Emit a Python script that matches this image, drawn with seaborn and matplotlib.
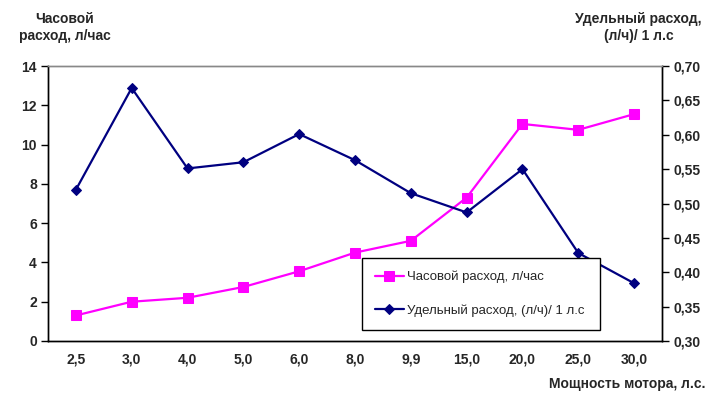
import numpy as np
import pandas as pd
import seaborn as sns
import matplotlib.pyplot as plt
from matplotlib.ticker import FixedLocator

# values
power = ["2,5", "3,0", "4,0", "5,0", "6,0", "8,0", "9,9", "15,0", "20,0", "25,0", "30,0"]
hourly = [1.3, 2.0, 2.2, 2.75, 3.55, 4.5, 5.1, 7.3, 11.05, 10.75, 11.55]
specific = [0.52, 0.668, 0.551, 0.56, 0.601, 0.563, 0.515, 0.487, 0.55, 0.428, 0.384]

sns.set_style("white")
plt.rcParams['font.family'] = ['Liberation Sans', 'DejaVu Sans']

df = pd.DataFrame({"pos": np.arange(len(power)), "hourly": hourly, "specific": specific})

fig = plt.figure(figsize=(7.16, 4.0), dpi=100)
ax = fig.add_axes([0.067, 0.1475, 0.8576, 0.6875])
ax2 = ax.twinx()

sns.lineplot(data=df, x="pos", y="hourly", ax=ax, color="#ff00ff", lw=1.6,
             marker="s", markersize=6.5, markeredgecolor="#ff00ff",
             label="Часовой расход, л/час", legend=False)
sns.lineplot(data=df, x="pos", y="specific", ax=ax2, color="#000080", lw=1.6,
             marker="D", markersize=5.2, markeredgecolor="#000080",
             label="Удельный расход, (л/ч)/ 1 л.с", legend=False)

ax.set_xlim(-0.5, len(power) - 0.5)
ax.set_ylim(0, 14)
ax2.set_ylim(0.30, 0.70)
ax.set_yticks(np.arange(0, 15, 2))
ax2.set_yticks(np.arange(0.30, 0.701, 0.05))
ax2.set_yticklabels([f"{v:.2f}".replace(".", ",") for v in np.arange(0.30, 0.701, 0.05)])

ax.set_xticks(df["pos"])
ax.set_xticklabels(power)
ax.xaxis.set_minor_locator(FixedLocator(np.arange(0.5, len(power) - 1, 1)))
ax.tick_params(axis="x", which="major", length=0, pad=8)
ax.tick_params(axis="x", which="minor", length=6, direction="inout", width=1, color="black")
ax.tick_params(axis="y", length=5, direction="out", width=1, color="black", pad=3)
ax2.tick_params(axis="y", length=5, direction="out", width=1, color="black", pad=3)

for a in (ax, ax2):
    for lab in a.get_xticklabels() + a.get_yticklabels():
        lab.set_fontweight("bold")
        lab.set_fontsize(10)
    a.set_xlabel("")
    a.set_ylabel("")
    for s in ("left", "right", "bottom"):
        a.spines[s].set_color("black")
        a.spines[s].set_linewidth(1)
    a.spines["top"].set_color("#888888")
    a.spines["top"].set_linewidth(1)

# axis titles placed like in the original
fig.text(0.09, 0.97, "Часовой\nрасход, л/час", ha="center", va="top",
         fontsize=10, fontweight="bold", linespacing=1.25)
fig.text(0.892, 0.97, "Удельный расход,\n(л/ч)/ 1 л.с", ha="center", va="top",
         fontsize=10, fontweight="bold", linespacing=1.25)
fig.text(0.985, 0.04, "Мощность мотора, л.с.", ha="right", va="center",
         fontsize=10, fontweight="bold")

h1, l1 = ax.get_legend_handles_labels()
h2, l2 = ax2.get_legend_handles_labels()
leg = ax2.legend(h1 + h2, l1 + l2, loc="lower left", bbox_to_anchor=(0.511, 0.04, 0.388, 0.26),
                 mode="expand", fancybox=False, framealpha=1, edgecolor="black",
                 fontsize=9.5, handlelength=2.2, handletextpad=0.2, labelspacing=1.6,
                 borderpad=1.0, borderaxespad=0)
leg.get_frame().set_linewidth(1)

fig.savefig("out.png", dpi=100)
